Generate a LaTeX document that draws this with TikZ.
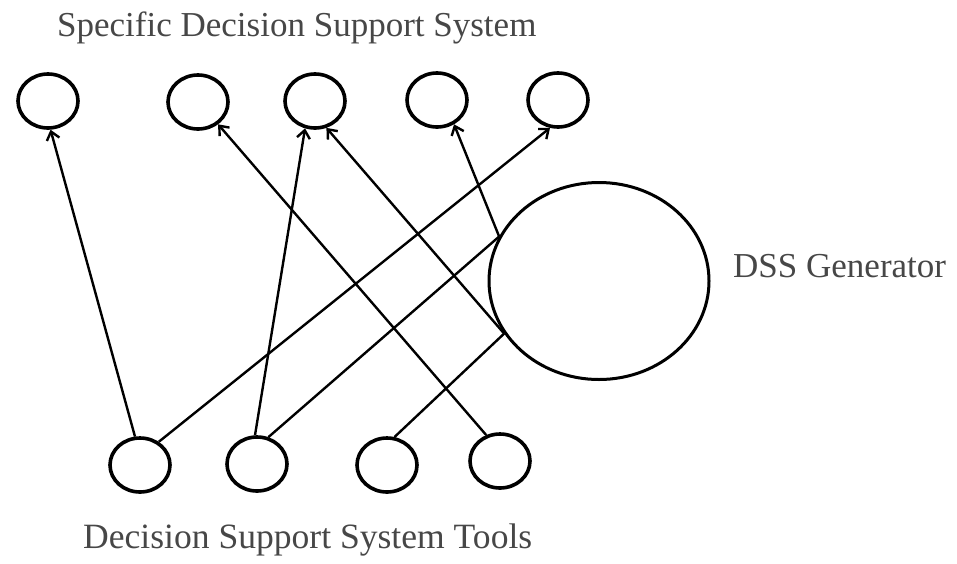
\documentclass[tikz,border=0pt]{standalone}
\usepackage{fontspec}
\setmainfont{Liberation Serif}
\usetikzlibrary{shapes.geometric,arrows.meta}
\begin{document}
\begin{tikzpicture}[x=1pt,y=-1pt,
  small/.style={ellipse,draw,line width=3.6pt,minimum width=60pt,minimum height=54pt,inner sep=0pt},
  big/.style={ellipse,draw,line width=3pt,minimum width=220pt,minimum height=197pt,inner sep=0pt},
  link/.style={line width=2.4pt},
  arr/.style={link,-{Straight Barb[length=8pt,width=13pt]}},
  lab/.style={font=\fontsize{35}{40}\selectfont,text=black!72,inner sep=0pt,anchor=base west}]
\fill[white] (0,0) rectangle (957,563);
\useasboundingbox (0,0) rectangle (957,563);

% specific DSS (top row)
\node[small] (t1) at (48,101) {};
\node[small] (t2) at (198,102) {};
\node[small] (t3) at (315,101) {};
\node[small] (t4) at (437,100) {};
\node[small] (t5) at (558,100) {};

% DSS tools (bottom row)
\node[small] (b1) at (140,465) {};
\node[small] (b2) at (257,464) {};
\node[small] (b3) at (387,465) {};
\node[small] (b4) at (500,461) {};

% generator
\node[big] (G) at (599,281) {};

% labels
\node[lab] (title) at (57,36) {Specific Decision Support System};
\node[lab] (gen) at (733,277) {DSS Generator};
\node[lab] (tools) at (83,548) {\resizebox{449pt}{!}{Decision Support System Tools}};

% connections
\draw[arr] (b1.100) -- (t1.-85);
\draw[arr] (b1.51) -- (t5.-106);
\draw[arr] (b2.94) -- (t3.-110);
\draw[link] (b2.67) -- (G.156);
\draw[arr] (G.156) -- (t4.-55);
\draw[arr] (b4.118) -- (t2.-48);
\draw[link] (b3.75) -- (G.209);
\draw[arr] (G.209) -- (t3.-67);
\end{tikzpicture}
\end{document}
